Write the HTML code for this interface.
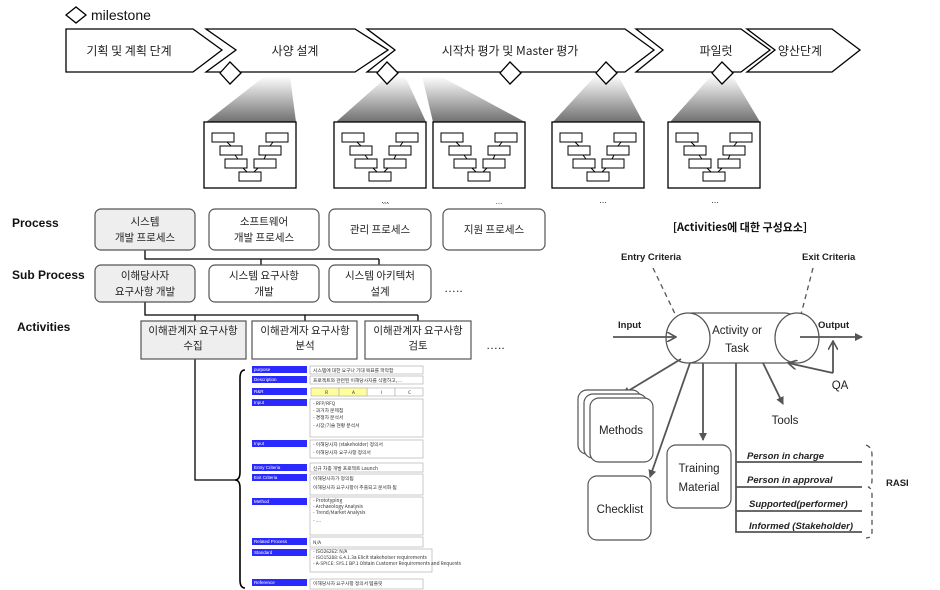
<!DOCTYPE html>
<html><head><meta charset="utf-8"><style>
html,body{margin:0;padding:0;background:#fff;}
svg{display:block;font-family:"Liberation Sans","Noto Sans CJK KR",sans-serif;}
.k{font-family:"Noto Sans CJK KR","Liberation Sans",sans-serif;}
</style></head><body>
<svg width="940" height="590" viewBox="0 0 940 590" xmlns="http://www.w3.org/2000/svg">
<defs>
<linearGradient id="g" x1="0" y1="0" x2="0" y2="1"><stop offset="0" stop-color="#fff"/><stop offset="1" stop-color="#707070"/></linearGradient>
<marker id="ah" markerWidth="8" markerHeight="8" refX="7" refY="4" orient="auto" markerUnits="userSpaceOnUse"><path d="M0,0 L8,4 L0,8 z" fill="#555"/></marker>
<marker id="ao" markerWidth="10" markerHeight="10" refX="9" refY="5" orient="auto" markerUnits="userSpaceOnUse"><path d="M0,0 L9,5 L0,10" fill="none" stroke="#555" stroke-width="1.6"/></marker>
</defs>
<!-- milestone legend -->
<path d="M66,15 L76,7 L86,15 L76,23 z" fill="#fff" stroke="#000" stroke-width="1.3"/>
<text x="91" y="20" font-size="14" fill="#111">milestone</text>
<!-- gradients -->
<g fill="url(#g)">
<path d="M265,76 L290,76 L296,122 L206,122 z"/>
<path d="M388,76 L405,76 L426,122 L336,122 z"/>
<path d="M422,76 L440,76 L525,122 L433,122 z"/>
<path d="M596,75 L618,75 L643,122 L553,122 z"/>
<path d="M712,75 L732,75 L760,122 L670,122 z"/>
</g>
<!-- chevrons -->
<g fill="#fff" stroke="#000" stroke-width="1.3">
<path d="M66,29 L193,29 L222,50 L193,72 L66,72 z"/>
<path d="M206,29 L355,29 L388,50 L355,72 L206,72 L236,50 z"/>
<path d="M367,29 L625,29 L654,50 L625,72 L367,72 L395,50 z"/>
<path d="M636,29 L741,29 L770,50 L741,72 L636,72 L663,50 z"/>
<path d="M747,29 L832,29 L860,50 L832,72 L747,72 L775,50 z"/>
</g>
<g class="k" font-size="12" fill="#222" text-anchor="middle">
<text x="129" y="55">기획 및 계획 단계</text>
<text x="295" y="55">사양 설계</text>
<text x="510" y="55">시작차 평가 및 Master 평가</text>
<text x="716" y="55">파일럿</text>
<text x="800" y="55">양산단계</text>
</g>
<g fill="#fff" stroke="#000" stroke-width="1.3">
<path d="M220,73 L230,62 L241,73 L230,84 z"/>
<path d="M377,73 L387,62 L398,73 L387,84 z"/>
<path d="M500,73 L510,62 L521,73 L510,84 z"/>
<path d="M596,73 L606,62 L617,73 L606,84 z"/>
<path d="M712,73 L722,62 L733,73 L722,84 z"/>
</g>
<!-- magnified boxes -->
<g id="mb">
<rect x="204" y="122" width="92" height="66" fill="#fff" stroke="#000" stroke-width="1.3"/>
<g fill="#fff" stroke="#000" stroke-width="1">
<rect x="212" y="133" width="22" height="9"/><rect x="266" y="133" width="22" height="9"/>
<rect x="220" y="146" width="22" height="9"/><rect x="259" y="146" width="22" height="9"/>
<rect x="225" y="159" width="22" height="9"/><rect x="254" y="159" width="22" height="9"/>
<rect x="239" y="172" width="22" height="9"/>
<path d="M227,142 L231,146 M273,142 L270,146 M235,155 L238,159 M266,155 L264,159 M243,168 L247,172 M258,168 L254,172" fill="none"/>
</g>
</g>
<use href="#mb" x="130"/>
<use href="#mb" x="229"/>
<use href="#mb" x="348"/>
<use href="#mb" x="464"/>
<g font-size="9" fill="#333" text-anchor="middle">
<text x="385" y="203">...</text><text x="603" y="203">...</text><text x="715" y="203">...</text>
</g>
<!-- row labels -->
<g font-size="12" font-weight="bold" fill="#111">
<text x="12" y="227">Process</text>
<text x="12" y="279">Sub Process</text>
<text x="17" y="331">Activities</text>
</g>
<!-- process connectors -->
<g stroke="#000" stroke-width="1.3" fill="none">
<path d="M145,250 L145,259 L379,259 M261,259 L261,265 M379,259 L379,265"/>
<path d="M145,302 L145,315 L418,315 M305,315 L305,321 M418,315 L418,321 M195,315 L195,321"/>
<path d="M195,359 L195,480 L236,480"/>
<path d="M245,370 Q240,370 240,378 L240,472 Q240,480 235,480 Q240,480 240,488 L240,580 Q240,588 245,588" stroke-width="1.6"/>
</g>
<g stroke="#555" stroke-width="1.2">
<rect x="95" y="209" width="100" height="41" rx="6" fill="#eee"/>
<rect x="209" y="209" width="110" height="41" rx="6" fill="#fff"/>
<rect x="329" y="209" width="102" height="41" rx="6" fill="#fff"/>
<rect x="443" y="209" width="102" height="41" rx="6" fill="#fff"/>
<rect x="95" y="265" width="100" height="37" rx="6" fill="#eee"/>
<rect x="209" y="265" width="110" height="37" rx="6" fill="#fff"/>
<rect x="329" y="265" width="102" height="37" rx="6" fill="#fff"/>
<rect x="141" y="321" width="105" height="38" fill="#eee"/>
<rect x="252" y="321" width="105" height="38" fill="#fff"/>
<rect x="365" y="321" width="106" height="38" fill="#fff"/>
</g>
<g font-size="8" fill="#333" text-anchor="middle"><text x="386" y="204">...</text><text x="499" y="204">...</text></g>
<g class="k" font-size="10.5" fill="#222" text-anchor="middle">
<text x="145" y="225">시스템</text><text x="145" y="241">개발 프로세스</text>
<text x="264" y="225">소프트웨어</text><text x="264" y="241">개발 프로세스</text>
<text x="380" y="233">관리 프로세스</text>
<text x="494" y="233">지원 프로세스</text>
<text x="145" y="279">이해당사자</text><text x="145" y="295">요구사항 개발</text>
<text x="264" y="279">시스템 요구사항</text><text x="264" y="295">개발</text>
<text x="380" y="279">시스템 아키텍처</text><text x="380" y="295">설계</text>
<text x="193" y="334">이해관계자 요구사항</text><text x="193" y="349">수집</text>
<text x="305" y="334">이해관계자 요구사항</text><text x="305" y="349">분석</text>
<text x="418" y="334">이해관계자 요구사항</text><text x="418" y="349">검토</text>
</g>
<g font-size="12" fill="#222"><text x="444" y="292">…..</text><text x="486" y="349">…..</text></g>
<!-- table -->
<g fill="#2a2aff">
<rect x="252" y="366" width="55" height="7"/><rect x="252" y="376" width="55" height="7"/><rect x="252" y="388" width="55" height="7"/><rect x="252" y="399" width="55" height="7"/><rect x="252" y="440" width="55" height="7"/><rect x="252" y="464" width="55" height="7"/><rect x="252" y="474" width="55" height="7"/><rect x="252" y="498" width="55" height="7"/><rect x="252" y="538" width="55" height="7"/><rect x="252" y="549" width="55" height="7"/><rect x="252" y="579" width="55" height="7"/>
</g>
<g fill="#fff" stroke="#bbb" stroke-width="0.8">
<rect x="310" y="366" width="113" height="8"/><rect x="310" y="376" width="113" height="8"/>
<rect x="310" y="399" width="113" height="38"/><rect x="310" y="440" width="113" height="18"/>
<rect x="310" y="463" width="113" height="9"/><rect x="310" y="474" width="113" height="21"/>
<rect x="310" y="497" width="113" height="38"/><rect x="310" y="537" width="113" height="10"/>
<rect x="310" y="549" width="122" height="23"/><rect x="310" y="579" width="113" height="10"/>
<rect x="339" y="388" width="28" height="8"/><rect x="367" y="388" width="28" height="8" fill="#fff"/><rect x="395" y="388" width="28" height="8"/>
</g>
<rect x="311" y="388" width="28" height="8" fill="#ffff99" stroke="#bbb" stroke-width="0.8"/>
<rect x="339" y="388" width="28" height="8" fill="#ffff99" stroke="#bbb" stroke-width="0.8"/>
<g font-size="4.5" fill="#fff">
<text x="254" y="371">purpose</text><text x="254" y="381">Description</text><text x="254" y="393">R&amp;R</text><text x="254" y="404">Input</text><text x="254" y="445">Input</text><text x="254" y="469">Entry Criteria</text><text x="254" y="479">Exit Criteria</text><text x="254" y="503">Method</text><text x="254" y="543">Related Process</text><text x="254" y="554">Standard</text><text x="254" y="584">Reference</text>
</g>
<g class="k" font-size="4.8" fill="#333">
<text x="313" y="372">시스템에 대한 요구나 기대 목표를 파악함</text>
<text x="313" y="382">프로젝트와 관련된 이해당사자를 식별하고, ...</text>
<text x="325" y="394">R</text><text x="352" y="394">A</text><text x="381" y="394">I</text><text x="408" y="394">C</text>
<text x="313" y="405">- RFP/RFQ</text><text x="313" y="412">- 과거차 문제점</text><text x="313" y="419">- 경쟁차 분석서</text><text x="313" y="427">- 시장/기술 현황 분석서</text>
<text x="313" y="446">- 이해당사자 (stakeholder) 정의서</text><text x="313" y="454">- 이해당사자 요구사항 정의서</text>
<text x="313" y="470">신규 차종 개발 프로젝트 Launch</text>
<text x="313" y="480">이해당사자가 정의됨</text><text x="313" y="489">이해당사자 요구사항이 추출되고 문서화 됨</text>
<text x="313" y="502">- Prototyping</text><text x="313" y="508">- Archaeology Analysis</text><text x="313" y="514">- Trend/Market Analysis</text><text x="313" y="522">- ....</text>
<text x="313" y="544">N/A</text>
<text x="313" y="553">- ISO26262: N/A</text><text x="313" y="559">- ISO15288: 6.4.1.3a Elicit stakeholser requirements</text><text x="313" y="565">- A-SPICE: SYS.1 BP.1 Obtain Customer Requirements  and Requests</text>
<text x="313" y="585">이해당사자 요구사항 정의서 템플릿</text>
</g>
<!-- right diagram -->
<text x="740" y="231" class="k" font-size="11" font-weight="bold" text-anchor="middle" fill="#111">[Activities에 대한 구성요소]</text>
<g font-size="9.5" font-weight="bold" fill="#222">
<text x="621" y="260">Entry Criteria</text><text x="802" y="260">Exit Criteria</text>
<text x="618" y="328">Input</text><text x="818" y="328">Output</text>
<text x="886" y="486">RASI</text>
</g>
<g stroke="#555" stroke-width="1.3" fill="none" stroke-dasharray="5,4">
<path d="M653,268 L677,318"/><path d="M813,268 L797,330"/>
<path d="M866,445 Q872,447 872,455 L872,480 Q872,487 868,487 Q872,488 872,495 L872,532 Q872,538 866,538"/>
</g>
<rect x="680" y="313" width="117" height="50" rx="12" fill="#fff" stroke="#555" stroke-width="1.2"/>
<ellipse cx="688" cy="338" rx="22" ry="25" fill="#fff" stroke="#555" stroke-width="1.2"/>
<ellipse cx="797" cy="338" rx="22" ry="25" fill="#fff" stroke="#555" stroke-width="1.2"/>
<path d="M684,313 L684,363 M793,313 L793,363" stroke="#fff" stroke-width="0"/>
<g font-size="11.5" fill="#222" text-anchor="middle"><text x="737" y="334">Activity or</text><text x="737" y="352">Task</text><text x="785" y="424">Tools</text><text x="840" y="389">QA</text></g>
<g stroke="#555" stroke-width="1.8" fill="none">
<path d="M613,337 L676,337" marker-end="url(#ao)"/>
<path d="M800,337 L862,337" marker-end="url(#ah)"/>
<path d="M833,373 L833,341" marker-end="url(#ao)"/>
<path d="M833,373 L788,363" marker-end="url(#ao)"/>
<path d="M681,359 L623,394" marker-end="url(#ah)"/>
<path d="M690,363 L650,477" marker-end="url(#ah)"/>
<path d="M703,363 L703,440" marker-end="url(#ah)"/>
<path d="M763,363 L783,404" marker-end="url(#ah)"/>
<path d="M736,363 L736,532 L862,532 M736,462 L862,462 M736,487 L862,487 M736,511 L862,511"/>
</g>
<g fill="#fff" stroke="#555" stroke-width="1.2">
<rect x="578" y="390" width="63" height="64" rx="9"/>
<rect x="584" y="394" width="63" height="64" rx="9"/>
<rect x="590" y="398" width="63" height="64" rx="9"/>
<rect x="588" y="476" width="63" height="64" rx="9"/>
<rect x="667" y="445" width="64" height="63" rx="9"/>
</g>
<g font-size="11.5" fill="#222" text-anchor="middle">
<text x="621" y="434">Methods</text><text x="620" y="513">Checklist</text>
<text x="699" y="472">Training</text><text x="699" y="491">Material</text>
</g>
<g font-size="9.5" font-weight="bold" font-style="italic" fill="#222">
<text x="747" y="459">Person in charge</text><text x="747" y="483">Person in approval</text>
<text x="749" y="507">Supported(performer)</text><text x="749" y="529">Informed (Stakeholder)</text>
</g>
</svg>
</body></html>
